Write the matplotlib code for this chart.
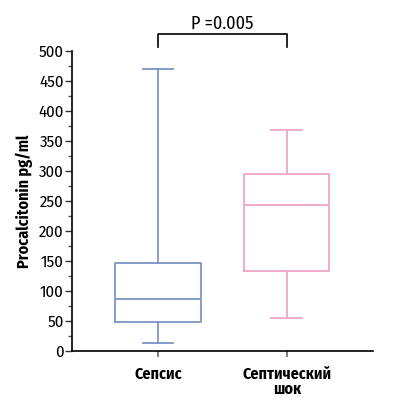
import matplotlib
matplotlib.use("Agg")
import matplotlib.pyplot as plt
from matplotlib.ticker import MultipleLocator

# values (pg/ml)
groups = ["Сепсис", "Септический\nшок"]
whisker_low = [14, 55]
q1 = [49, 134]
median = [87, 243]
q3 = [146, 295]
whisker_high = [470, 369]
colors = ["#7b95c4", "#eea6c6"]
p_text = "P =0.005"

plt.rcParams["font.family"] = ["Fira Sans Condensed", "DejaVu Sans"]

stats = []
for i, g in enumerate(groups):
    stats.append(dict(label=g, whislo=whisker_low[i], q1=q1[i], med=median[i],
                      q3=q3[i], whishi=whisker_high[i], fliers=[]))

fig = plt.figure(figsize=(3.98, 4.11), dpi=100)
ax = fig.add_axes([0.181, 0.146, 0.756, 0.730])

positions = [1, 2]
for i, s in enumerate(stats):
    c = colors[i]
    ax.bxp([s], positions=[positions[i]], widths=0.66, showfliers=False,
           boxprops=dict(color=c, lw=1.3),
           medianprops=dict(color=c, lw=1.3),
           whiskerprops=dict(color=c, lw=1.3),
           capprops=dict(color=c, lw=1.3),
           capwidths=0.24)

ax.set_xlim(0.333, 2.667)
ax.set_ylim(0, 500)
ax.set_xticks(positions)
ax.set_xticklabels(groups, fontsize=11.5, fontweight="bold", linespacing=0.9)
ax.yaxis.set_major_locator(MultipleLocator(50))
ax.yaxis.set_minor_locator(MultipleLocator(25))
ax.tick_params(axis="y", which="major", length=5, width=1, labelsize=12, pad=1, color="#333333")
ax.tick_params(axis="y", which="minor", length=3, width=1, color="#555555")
ax.tick_params(axis="x", length=4, width=1.2, color="#666666", pad=7)
for sp in ["top", "right"]:
    ax.spines[sp].set_visible(False)
for sp in ["left", "bottom"]:
    ax.spines[sp].set_linewidth(1.2)

ax.set_ylabel("Procalcitonin pg/ml", fontsize=11.5, fontweight="bold", labelpad=4)

# significance bracket
yb = 528
ax.plot([1, 1, 2, 2], [506, yb, yb, 506], color="black", lw=1.2, clip_on=False)
ax.text(1.5, yb + 3, p_text, ha="center", va="bottom", fontsize=13)

fig.savefig("out.png", dpi=100)
